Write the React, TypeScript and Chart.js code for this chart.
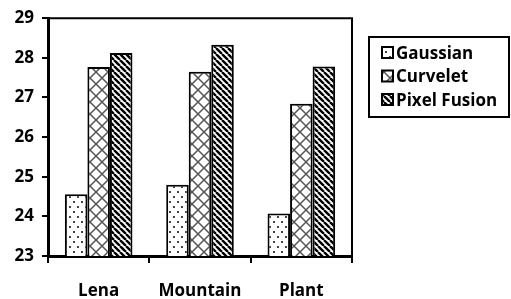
import React, { useEffect, useRef } from "react";
import { Chart, registerables } from "chart.js";

Chart.register(...registerables);

const categories = ["Lena", "Mountain", "Plant"];
const seriesNames = ["Gaussian", "Curvelet", "Pixel Fusion"];
const gaussian = [24.56, 24.8, 24.07];
const curvelet = [27.77, 27.65, 26.84];
const pixelFusion = [28.12, 28.33, 27.78];
const yTicks = [23, 24, 25, 26, 27, 28, 29];

const FONT = "'Open Sans', 'DejaVu Sans', sans-serif";

function makePattern(kind: string): CanvasPattern | string {
  const c = document.createElement("canvas");
  const ctx = c.getContext("2d")!;
  if (kind === "dots") {
    c.width = 8;
    c.height = 10;
    ctx.fillStyle = "#fff";
    ctx.fillRect(0, 0, 8, 10);
    ctx.fillStyle = "#444";
    ctx.fillRect(1, 1, 2, 2);
    ctx.fillRect(5, 6, 2, 2);
  } else if (kind === "cross") {
    c.width = 12;
    c.height = 12;
    ctx.fillStyle = "#fff";
    ctx.fillRect(0, 0, 12, 12);
    ctx.strokeStyle = "#555";
    ctx.lineWidth = 1.5;
    ctx.beginPath();
    ctx.moveTo(0, 0);
    ctx.lineTo(12, 12);
    ctx.moveTo(12, 0);
    ctx.lineTo(0, 12);
    ctx.stroke();
  } else {
    const s = 6;
    c.width = s;
    c.height = s;
    ctx.fillStyle = "#fff";
    ctx.fillRect(0, 0, s, s);
    ctx.strokeStyle = "#000";
    ctx.lineWidth = 2.4;
    ctx.beginPath();
    for (const x0 of [-s, 0, s]) {
      ctx.moveTo(x0, 0);
      ctx.lineTo(x0 + s, s);
    }
    ctx.stroke();
  }
  const p = ctx.createPattern(c, "repeat");
  return p || "#888";
}

export default function App() {
  const ref = useRef<HTMLCanvasElement>(null);

  useEffect(() => {
    document.body.style.margin = "0";
    const canvas = ref.current!;
    const patterns = [makePattern("dots"), makePattern("cross"), makePattern("stripes")];
    const seriesValues = [gaussian, curvelet, pixelFusion];

    const framePlugin = {
      id: "frame",
      afterDatasetsDraw(chart: any) {
        const { ctx, chartArea } = chart;
        ctx.save();
        ctx.strokeStyle = "#000";
        ctx.lineWidth = 2;
        ctx.beginPath();
        ctx.moveTo(chartArea.left, chartArea.top);
        ctx.lineTo(chartArea.right, chartArea.top);
        ctx.lineTo(chartArea.right, chartArea.bottom);
        ctx.stroke();
        ctx.restore();
      },
    };

    const legendPlugin = {
      id: "boxLegend",
      afterDraw(chart: any) {
        const ctx = chart.ctx;
        ctx.save();
        ctx.strokeStyle = "#000";
        ctx.lineWidth = 2;
        ctx.strokeRect(369, 37, 140, 80);
        ctx.font = `bold 17px ${FONT}`;
        ctx.textBaseline = "middle";
        ctx.fillStyle = "#000";
        seriesNames.forEach((name, i) => {
          const cy = 53 + i * 23.5;
          ctx.fillStyle = patterns[i] as any;
          ctx.fillRect(382, cy - 6, 11, 11);
          ctx.lineWidth = 2;
          ctx.strokeRect(382, cy - 6, 11, 11);
          ctx.fillStyle = "#000";
          ctx.fillText(name, 396, cy + 1);
        });
        ctx.restore();
      },
    };

    const chart = new Chart(canvas, {
      type: "bar",
      data: {
        labels: categories,
        datasets: seriesNames.map((name, i) => ({
          label: name,
          data: seriesValues[i],
          backgroundColor: patterns[i] as any,
          borderColor: "#000",
          borderWidth: 2,
          borderSkipped: false,
          categoryPercentage: 0.667,
          barPercentage: 1.0,
        })),
      },
      options: {
        animation: false,
        responsive: false,
        devicePixelRatio: 1,
        layout: { padding: { left: 0, right: 159, top: 17, bottom: 0 } },
        plugins: { legend: { display: false }, tooltip: { enabled: false } },
        scales: {
          x: {
            grid: {
              offset: true,
              drawOnChartArea: false,
              drawTicks: true,
              tickLength: 7,
              color: "#000",
              lineWidth: 2,
            },
            border: { display: true, color: "#000", width: 3 },
            ticks: {
              color: "#000",
              font: { family: FONT, size: 17, weight: "bold" },
              padding: 18,
            },
            afterFit: (s: any) => {
              s.height = 43;
            },
          },
          y: {
            min: 23,
            max: 29,
            afterBuildTicks: (s: any) => {
              s.ticks = yTicks.map((v) => ({ value: v }));
            },
            ticks: {
              color: "#000",
              font: { family: FONT, size: 17, weight: "bold" },
              padding: 8,
            },
            grid: {
              drawOnChartArea: false,
              tickLength: 6,
              color: "#000",
              lineWidth: 2,
            },
            border: { display: true, color: "#000", width: 3 },
            afterFit: (s: any) => {
              s.width = 48;
            },
          },
        },
      },
      plugins: [framePlugin, legendPlugin],
    });
    return () => chart.destroy();
  }, []);

  return (
    <div style={{ width: 511, height: 299 }}>
      <canvas ref={ref} width={511} height={299} style={{ display: "block" }} />
    </div>
  );
}
